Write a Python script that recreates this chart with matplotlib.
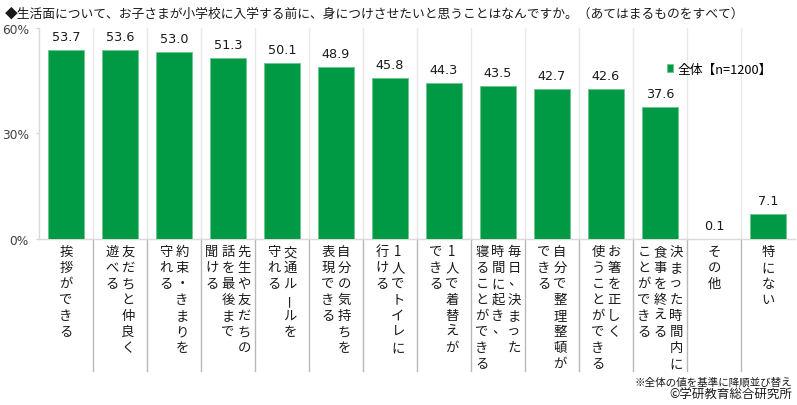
import matplotlib
matplotlib.use('Agg')
import matplotlib.pyplot as plt
from matplotlib.transforms import blended_transform_factory

plt.rcParams['font.family'] = ['Noto Sans CJK JP', 'DejaVu Sans']

title = "◆生活面について、お子さまが小学校に入学する前に、身につけさせたいと思うことはなんですか。（あてはまるものをすべて）"
categories = [
    ["挨拶ができる"],
    ["友だちと仲良く", "遊べる"],
    ["約束・きまりを", "守れる"],
    ["先生や友だちの", "話を最後まで", "聞ける"],
    ["交通ルールを", "守れる"],
    ["自分の気持ちを", "表現できる"],
    ["1人でトイレに", "行ける"],
    ["1人で着替えが", "できる"],
    ["毎日、決まった", "時間に起き、", "寝ることができる"],
    ["自分で整理整頓が", "できる"],
    ["お箸を正しく", "使うことができる"],
    ["決まった時間内に", "食事を終える", "ことができる"],
    ["その他"],
    ["特にない"],
]
values = [53.7, 53.6, 53.0, 51.3, 50.1, 48.9, 45.8, 44.3, 43.5, 42.7, 42.6, 37.6, 0.1, 7.1]
yticks = [0, 30, 60]
ytick_labels = ["0%", "30%", "60%"]
legend_label = "全体【n=1200】"
note1 = "※全体の値を基準に降順並び替え"
note2 = "©学研教育総合研究所"

W, H = 797, 406
fig = plt.figure(figsize=(W / 100, H / 100), dpi=100)
ax_left, ax_right, ax_bottom, ax_top = 39, 795, 240, 28.7
ax = fig.add_axes([ax_left / W, 1 - ax_bottom / H, (ax_right - ax_left) / W, (ax_bottom - ax_top) / H])
ax_h_px = ax_bottom - ax_top

n = len(values)
x = list(range(n))
green = '#009944'
bars = ax.bar(x, values, width=0.67, color=green, edgecolor='#6cc791', linewidth=0.7,
              label=legend_label, zorder=3)

ax.set_xlim(-0.5, n - 0.5)
ax.set_ylim(0, 60)
ax.set_yticks(yticks)
ax.set_yticklabels(ytick_labels, fontfamily='DejaVu Sans', fontsize=8.8, color='#404040')
ax.tick_params(axis='y', length=2.2, width=0.8, color='#d0d0d0', pad=5)
ax.set_xticks([])
for s in ['top', 'right']:
    ax.spines[s].set_visible(False)
for s in ['left', 'bottom']:
    ax.spines[s].set_color('#d9d9d9')
    ax.spines[s].set_linewidth(1.0)

# gridlines between categories inside the plot
for b in range(n - 1):
    ax.axvline(b + 0.5, color='#e8e8e8', lw=1.0, zorder=1)

# separators below the baseline
trans = blended_transform_factory(ax.transData, ax.transAxes)
for b in range(n - 1):
    ax.plot([b + 0.5, b + 0.5], [0, -132 / ax_h_px], transform=trans, color='#b8b8b8',
            lw=1.0, clip_on=False)

# value labels
for xi, v in zip(x, values):
    ax.annotate(f"{v:.1f}", xy=(xi, v), xytext=(0, 13.5 * 0.72), textcoords='offset points',
                ha='center', va='center', fontsize=9.2, fontfamily='DejaVu Sans', color='#1a1a1a')

# vertical category labels (columns right to left)
colsp = 16.0
charsp = 16.0
for xi, cols in zip(x, categories):
    nc = len(cols)
    for ci, col in enumerate(cols):
        dx = ((nc - 1) / 2 - ci) * colsp
        for k, ch in enumerate(col):
            dy = -(12 + k * charsp)
            ddx, ddy = 0, 0
            if ch == '、':
                ddx, ddy = 1, 3
            rot = 90 if ch == 'ー' else 0
            ax.annotate(ch, xy=(xi, 0), xycoords=('data', 'axes fraction'),
                        xytext=((dx + ddx) * 0.72, (dy + ddy) * 0.72), textcoords='offset points',
                        ha='center', va='center', fontsize=9.6, color='#1a1a1a',
                        rotation=rot, annotation_clip=False)

# legend
ax.legend(loc='center left', bbox_to_anchor=(667 / W, 1 - 70 / H), bbox_transform=fig.transFigure,
          frameon=False, handlelength=0.5, handleheight=0.5, handletextpad=0.3,
          borderpad=0, borderaxespad=0, prop={'size': 9.2})

fig.text(5 / W, 1 - 14 / H, title, ha='left', va='center', fontsize=9.2, color='#1a1a1a')
fig.text(792 / W, 1 - 382 / H, note1, ha='right', va='center', fontsize=7.6, color='#1a1a1a')
fig.text(792 / W, 1 - 395 / H, note2, ha='right', va='center', fontsize=9.0, color='#1a1a1a')

fig.savefig('out.png', dpi=100)
